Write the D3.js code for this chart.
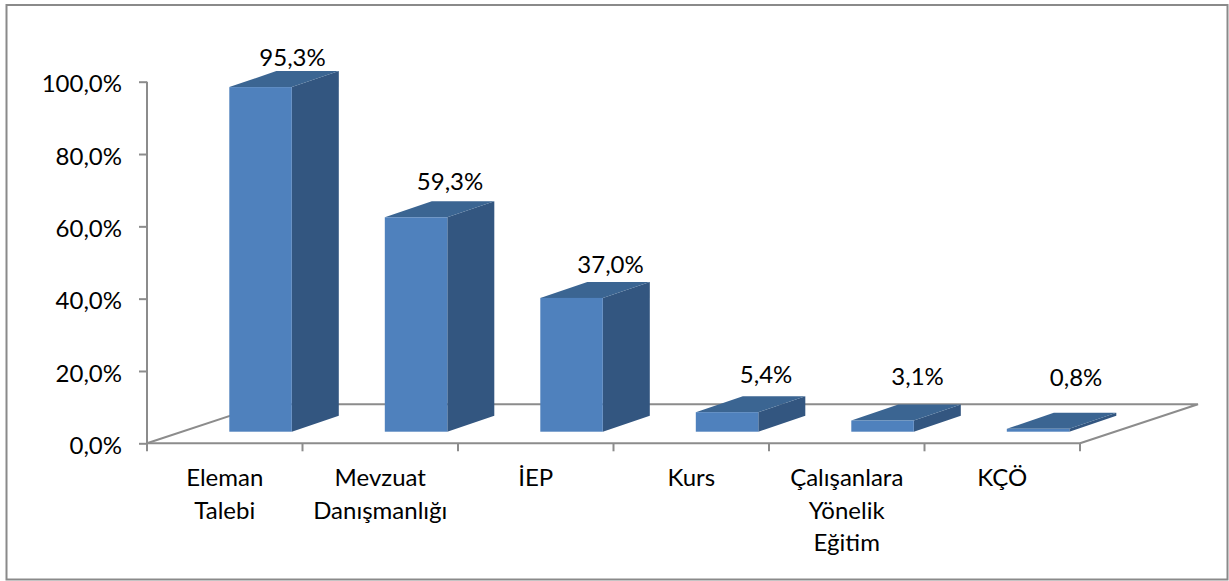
<!DOCTYPE html>
<html><head><meta charset="utf-8">
<script src="https://cdn.jsdelivr.net/npm/d3@7"></script>
<style>html,body{margin:0;padding:0;background:#fff}svg{display:block}text{font-family:Lato,"Open Sans",sans-serif;fill:#000}</style>
</head><body><svg id="c" width="1229" height="581"></svg>
<script>
const categories=[["Eleman","Talebi"],["Mevzuat","Danışmanlığı"],["İEP"],["Kurs"],["Çalışanlara","Yönelik","Eğitim"],["KÇÖ"]];
const values=[95.3,59.3,37.0,5.4,3.1,0.8];
const yTicks=[0,20,40,60,80,100];
const labelShiftX=[32,34,39,39,35,38];
const labelLift=[5,11,9,13,19,27];
const fmt=v=>v.toFixed(1).replace(".",",")+"%";

const svg=d3.select("#c");
const x=d3.scaleBand().domain(d3.range(categories.length)).range([147,1080]);
const y=d3.scaleLinear().domain([0,100]).range([443.3,81.7]);
const grey="#8c8c8c";
const depth={dx:118,dy:39}, barDepth={dx:47,dy:16};
const barW=62.5, insetX=82.3, baseY=431.7, fs=24;

svg.append("rect").attr("x",6.5).attr("y",5).attr("width",1221).attr("height",574.5)
  .attr("fill","#fff").attr("stroke","#8a8a8a").attr("stroke-width",2);

// floor
const x0=x.range()[0],x1=x.range()[1],y0=y(0);
svg.append("path").attr("fill","none").attr("stroke",grey).attr("stroke-width",2)
  .attr("d",d3.line()([[x0,y0],[x0+depth.dx,y0-depth.dy],[x1+depth.dx,y0-depth.dy],[x1,y0]]));

// axes
const gy=svg.append("g").attr("transform",`translate(${x0},0)`)
  .call(d3.axisLeft(y).tickValues(yTicks).tickFormat(d=>fmt(d)).tickSize(8).tickPadding(17));
const gx=svg.append("g").attr("transform",`translate(0,${y0})`)
  .call(d3.axisBottom(x).tickFormat("").tickSize(0));
gx.selectAll(".tick").remove();
gx.selectAll(".xt").data(d3.range(categories.length+1)).join("line").attr("class","xt")
  .attr("x1",i=>i<categories.length?x(i):x1).attr("x2",i=>i<categories.length?x(i):x1)
  .attr("y1",0).attr("y2",8);
[gy,gx].forEach(g=>{g.selectAll("path,line").attr("stroke",grey).attr("stroke-width",2);});
gy.selectAll("text").attr("font-size",fs).attr("dy","0.42em");
gy.attr("font-family",null);gx.attr("font-family",null);
gx.select("path").attr("d",`M${x0},0H${x1}`);
gy.select("path").attr("d",`M0,${y(100)}V${y0}`);

// bars
const bars=svg.append("g").selectAll("g").data(values).join("g");
const left=(d,i)=>x(i)+insetX;
const topY=d=>baseY-(y(0)-y(d));
bars.append("path").attr("fill","#335680").attr("d",(d,i)=>{const l=left(d,i)+barW,t=topY(d);
  return d3.line()([[l,t],[l+barDepth.dx,t-barDepth.dy],[l+barDepth.dx,baseY-barDepth.dy],[l,baseY]])+"Z";});
bars.append("path").attr("fill","#3b6592").attr("d",(d,i)=>{const l=left(d,i),t=topY(d);
  return d3.line()([[l,t],[l+barDepth.dx,t-barDepth.dy],[l+barW+barDepth.dx,t-barDepth.dy],[l+barW,t]])+"Z";});
bars.append("rect").attr("fill","#4f81bd").attr("x",left).attr("y",topY).attr("width",barW).attr("height",d=>baseY-topY(d));

// value labels
bars.append("text").attr("text-anchor","middle").attr("font-size",fs)
  .attr("x",(d,i)=>left(d,i)+barW/2+labelShiftX[i])
  .attr("y",(d,i)=>topY(d)-barDepth.dy-labelLift[i]).text(fmt);

// category labels
svg.append("g").selectAll("text").data(categories).join("text")
  .attr("text-anchor","middle").attr("font-size",fs)
  .attr("transform",(d,i)=>`translate(${x(i)+x.bandwidth()/2},486)`)
  .selectAll("tspan").data(d=>d).join("tspan").attr("x",0).attr("y",(d,i)=>i*32.5).text(d=>d);
</script></body></html>
